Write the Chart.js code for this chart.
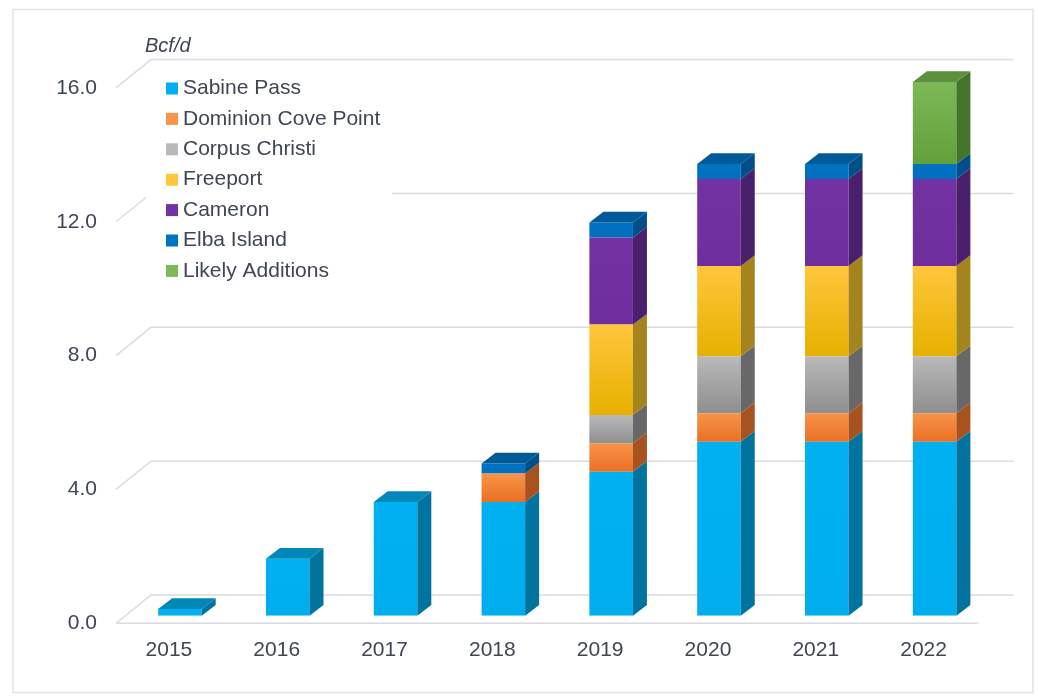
<!DOCTYPE html>
<html>
<head>
<meta charset="utf-8">
<script src="https://cdn.jsdelivr.net/npm/chart.js@4.4.0/dist/chart.umd.min.js"></script>
<style>
  html, body { margin: 0; padding: 0; background: #fff; }
  #wrap { width: 1038px; height: 699px; }
</style>
</head>
<body>
<div id="wrap"><canvas id="lngChart" width="1038" height="699"></canvas></div>
<script>
// values, Bcf/d
const years = ['2015', '2016', '2017', '2018', '2019', '2020', '2021', '2022'];
const sabinePass       = [0.2, 1.7, 3.4, 3.4, 4.3, 5.2, 5.2, 5.2];
const dominionCovePt   = [0, 0, 0, 0.85, 0.85, 0.85, 0.85, 0.85];
const corpusChristi    = [0, 0, 0, 0, 0.85, 1.7, 1.7, 1.7];
const freeport         = [0, 0, 0, 0, 2.7, 2.7, 2.7, 2.7];
const cameron          = [0, 0, 0, 0, 2.6, 2.6, 2.6, 2.6];
const elbaIsland       = [0, 0, 0, 0.3, 0.45, 0.45, 0.45, 0.45];
const likelyAdditions  = [0, 0, 0, 0, 0, 0, 0, 2.45];
const yTicks = [0, 4, 8, 12, 16];
const unitLabel = 'Bcf/d';

// name, values, front top / front bottom / side / top face colours
const series = [
  { name: 'Sabine Pass',         values: sabinePass,      c: ['#00b0f0', '#00aeee', '#00739e', '#0088b8'] },
  { name: 'Dominion Cove Point', values: dominionCovePt,  c: ['#f69448', '#eb6f24', '#a85220', '#c0602a'] },
  { name: 'Corpus Christi',      values: corpusChristi,   c: ['#b9b9b9', '#8e8e8e', '#686868', '#8a8a8a'] },
  { name: 'Freeport',            values: freeport,        c: ['#ffc63c', '#e6b000', '#a4841c', '#c79a10'] },
  { name: 'Cameron',             values: cameron,         c: ['#7232a2', '#6e2e9e', '#4a1f6c', '#5a2784'] },
  { name: 'Elba Island',         values: elbaIsland,      c: ['#0072c2', '#006fbe', '#004f88', '#005a98'] },
  { name: 'Likely Additions',    values: likelyAdditions, c: ['#7db957', '#62a03a', '#44742a', '#5e8f3e'] }
];

// oblique offsets of the 3d look
const FRONT = { dx: -10, dy: 7.6 };
const BACK = { dx: 25, dy: -20.7 };
const BAR = { dx: 14, dy: -10.7 };
const gridColor = '#dadce4';
const textColor = '#3f4654';
const font = '"Liberation Sans", Arial, sans-serif';

function frontFill(idx) {
  return function(context) {
    const s = series[idx];
    const chart = context.chart;
    const y = chart.scales && chart.scales.y;
    if (!y || context.type !== 'data') return s.c[0];
    const i = context.dataIndex;
    let start = 0;
    for (let k = 0; k < idx; k++) start += series[k].values[i];
    const end = start + s.values[i];
    const p0 = y.getPixelForValue(end), p1 = y.getPixelForValue(start);
    if (!isFinite(p0) || !isFinite(p1) || p0 === p1) return s.c[0];
    const g = chart.ctx.createLinearGradient(0, p0, 0, p1);
    g.addColorStop(0, s.c[0]);
    g.addColorStop(1, s.c[1]);
    return g;
  };
}

function poly(ctx, pts, fill) {
  ctx.beginPath();
  ctx.moveTo(pts[0][0], pts[0][1]);
  for (let k = 1; k < pts.length; k++) ctx.lineTo(pts[k][0], pts[k][1]);
  ctx.closePath();
  ctx.fillStyle = fill;
  ctx.fill();
}

const depthPlugin = {
  id: 'depth3d',
  beforeDraw(chart) {
    const ctx = chart.ctx;
    ctx.save();
    ctx.strokeStyle = '#e2e3ea';
    ctx.lineWidth = 1.5;
    ctx.strokeRect(13, 9.5, 1020, 683);
    ctx.restore();
  },
  beforeDatasetsDraw(chart) {
    const ctx = chart.ctx, a = chart.chartArea, y = chart.scales.y;
    ctx.save();
    ctx.strokeStyle = gridColor;
    ctx.lineWidth = 1.5;
    y.ticks.forEach(t => {
      const p = y.getPixelForValue(t.value);
      ctx.beginPath();
      ctx.moveTo(a.left + FRONT.dx, p + FRONT.dy);
      ctx.lineTo(a.left + BACK.dx, p + BACK.dy);
      ctx.lineTo(a.right + BACK.dx, p + BACK.dy);
      ctx.stroke();
      if (t.value === 0) {
        ctx.beginPath();
        ctx.moveTo(a.left + FRONT.dx, p + FRONT.dy);
        ctx.lineTo(a.right + FRONT.dx, p + FRONT.dy);
        ctx.stroke();
      }
    });
    ctx.restore();
  },
  afterDatasetsDraw(chart) {
    const ctx = chart.ctx;
    ctx.save();
    years.forEach((yr, i) => {
      let topIdx = -1;
      series.forEach((s, d) => { if (s.values[i] > 0) topIdx = d; });
      series.forEach((s, d) => {
        if (!(s.values[i] > 0)) return;
        const el = chart.getDatasetMeta(d).data[i];
        const pr = el.getProps(['x', 'y', 'base', 'width'], true);
        const x0 = pr.x - pr.width / 2, x1 = pr.x + pr.width / 2;
        const yT = Math.min(pr.y, pr.base), yB = Math.max(pr.y, pr.base);
        poly(ctx, [[x1, yB], [x1 + BAR.dx, yB + BAR.dy], [x1 + BAR.dx, yT + BAR.dy], [x1, yT]], s.c[2]);
        if (d === topIdx) {
          poly(ctx, [[x0, yT], [x1, yT], [x1 + BAR.dx, yT + BAR.dy], [x0 + BAR.dx, yT + BAR.dy]], s.c[3]);
        }
      });
    });
    ctx.restore();
  },
  afterDraw(chart) {
    const ctx = chart.ctx;
    ctx.save();
    // legend sits on a white box over the back wall
    ctx.fillStyle = '#fff';
    ctx.fillRect(146, 70, 246, 215);
    ctx.textBaseline = 'middle';
    ctx.textAlign = 'left';
    ctx.font = '21px ' + font;
    series.forEach((s, d) => {
      const cy = 88.5 + d * 30.4;
      ctx.fillStyle = s.c[0];
      ctx.fillRect(166, cy - 6, 12, 12);
      ctx.fillStyle = textColor;
      ctx.fillText(s.name, 183, cy);
    });
    ctx.font = 'italic 20px ' + font;
    ctx.fillText(unitLabel, 145, 46);
    ctx.restore();
  }
};

const ctx = document.getElementById('lngChart').getContext('2d');
const lngChart = new Chart(ctx, {
  type: 'bar',
  data: {
    labels: years,
    datasets: series.map((s, d) => ({
      label: s.name,
      data: s.values,
      backgroundColor: frontFill(d),
      borderWidth: 0,
      categoryPercentage: 1,
      barPercentage: 0.404
    }))
  },
  options: {
    responsive: false,
    animation: false,
    layout: { padding: { left: 46, right: 49.5, top: 80.3, bottom: 33.3 } },
    plugins: { legend: { display: false }, tooltip: { enabled: false } },
    scales: {
      x: {
        stacked: true,
        grid: { display: false, drawTicks: false },
        border: { display: false },
        ticks: { color: textColor, font: { size: 21, family: font }, padding: 22, labelOffset: -11, maxRotation: 0 },
        afterFit(scale) { scale.height = 50; }
      },
      y: {
        stacked: true,
        min: 0,
        max: 16,
        afterBuildTicks(scale) { scale.ticks = yTicks.map(v => ({ value: v })); },
        grid: { display: false, drawTicks: false },
        border: { display: false },
        ticks: { color: textColor, font: { size: 21, family: font }, padding: 29, labelOffset: 7.6,
                 callback: v => Number(v).toFixed(1) },
        afterFit(scale) { scale.width = 80; }
      }
    }
  },
  plugins: [depthPlugin]
});
</script>
</body>
</html>
